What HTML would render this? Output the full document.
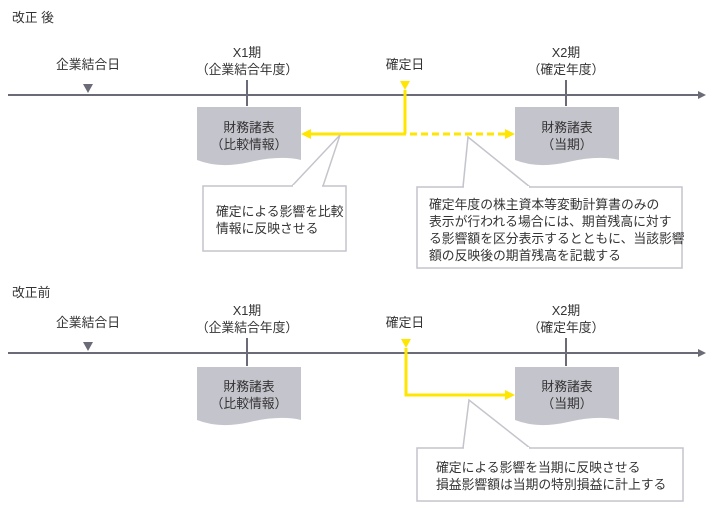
<!DOCTYPE html>
<html><head><meta charset="utf-8"><style>
body{margin:0;background:#fff;width:712px;height:512px;overflow:hidden}
svg text{font-family:"Liberation Sans","Noto Sans CJK JP",sans-serif;font-size:12.8px;fill:#333}
</style></head><body>
<svg width="712" height="512" viewBox="0 0 712 512">
<g id="top">
<text x="12" y="22">改正 後</text>
<line x1="8" y1="95" x2="700" y2="95" stroke="#6b6b78" stroke-width="2"/>
<path d="M698,91L706,95L698,99z" fill="#6b6b78"/>
<text x="88" y="69" text-anchor="middle">企業結合日</text>
<path d="M83,84L93,84L88,93z" fill="#6b6b78"/>
<text x="247" y="57" text-anchor="middle">X1期</text>
<text x="247" y="74" text-anchor="middle">（企業結合年度）</text>
<line x1="247" y1="80" x2="247" y2="106" stroke="#6b6b78" stroke-width="2"/>
<text x="405" y="69" text-anchor="middle">確定日</text>
<text x="566" y="57" text-anchor="middle">X2期</text>
<text x="566" y="74" text-anchor="middle">（確定年度）</text>
<line x1="566" y1="80" x2="566" y2="106" stroke="#6b6b78" stroke-width="2"/>
<path d="M197,107H301V160Q280,155 250,162T197,160z" fill="#c4c4cc"/>
<text x="249" y="132" text-anchor="middle">財務諸表</text>
<text x="249" y="149" text-anchor="middle">（比較情報）</text>
<path d="M515,107H619V160Q598,155 568,162T515,160z" fill="#c4c4cc"/>
<text x="567" y="132" text-anchor="middle">財務諸表</text>
<text x="567" y="149" text-anchor="middle">（当期）</text>
<path d="M400,81L410,81L405,90z" fill="#ffe600"/>
<line x1="405" y1="90" x2="405" y2="134" stroke="#ffe600" stroke-width="3"/>
<line x1="310" y1="134" x2="406" y2="134" stroke="#ffe600" stroke-width="3"/>
<path d="M301,134L311,129L311,139z" fill="#ffe600"/>
<line x1="410" y1="134" x2="506" y2="134" stroke="#ffe600" stroke-width="3" stroke-dasharray="7,4"/>
<path d="M515,134L505,129L505,139z" fill="#ffe600"/>
<path d="M292,186L340,135L323,186" fill="#fff" stroke="#c4c4cc" stroke-width="1.5"/>
<rect x="203" y="186" width="143" height="65" fill="#fff" stroke="#c4c4cc" stroke-width="1.5"/>
<line x1="293" y1="186" x2="322" y2="186" stroke="#fff" stroke-width="2"/>
<text x="216" y="216">確定による影響を比較</text>
<text x="216" y="233">情報に反映させる</text>
<path d="M463,187L468,137L530,187" fill="#fff" stroke="#c4c4cc" stroke-width="1.5"/>
<rect x="417" y="187" width="265" height="81" fill="#fff" stroke="#c4c4cc" stroke-width="1.5"/>
<line x1="464" y1="187" x2="529" y2="187" stroke="#fff" stroke-width="2"/>
<text x="429" y="209">確定年度の株主資本等変動計算書のみの</text>
<text x="429" y="226">表示が行われる場合には、期首残高に対す</text>
<text x="429" y="243">る影響額を区分表示するとともに、当該影響</text>
<text x="429" y="260">額の反映後の期首残高を記載する</text>
</g>
<g id="bottom">
<text x="12" y="297">改正前</text>
<line x1="8" y1="353" x2="700" y2="353" stroke="#6b6b78" stroke-width="2"/>
<path d="M698,349L706,353L698,357z" fill="#6b6b78"/>
<text x="88" y="327" text-anchor="middle">企業結合日</text>
<path d="M83,342L93,342L88,351z" fill="#6b6b78"/>
<text x="247" y="315" text-anchor="middle">X1期</text>
<text x="247" y="332" text-anchor="middle">（企業結合年度）</text>
<line x1="247" y1="338" x2="247" y2="366" stroke="#6b6b78" stroke-width="2"/>
<text x="405" y="327" text-anchor="middle">確定日</text>
<text x="566" y="315" text-anchor="middle">X2期</text>
<text x="566" y="332" text-anchor="middle">（確定年度）</text>
<line x1="566" y1="338" x2="566" y2="366" stroke="#6b6b78" stroke-width="2"/>
<path d="M197,367H301V420Q280,415 250,422T197,420z" fill="#c4c4cc"/>
<text x="249" y="391" text-anchor="middle">財務諸表</text>
<text x="249" y="408" text-anchor="middle">（比較情報）</text>
<path d="M515,367H619V420Q598,415 568,422T515,420z" fill="#c4c4cc"/>
<text x="567" y="391" text-anchor="middle">財務諸表</text>
<text x="567" y="408" text-anchor="middle">（当期）</text>
<path d="M401,339L411,339L406,348z" fill="#ffe600"/>
<path d="M406,348V395H506" fill="none" stroke="#ffe600" stroke-width="3"/>
<path d="M515,395L505,390L505,400z" fill="#ffe600"/>
<path d="M463,448L469,400L530,448" fill="#fff" stroke="#c4c4cc" stroke-width="1.5"/>
<rect x="417" y="448" width="266" height="53" fill="#fff" stroke="#c4c4cc" stroke-width="1.5"/>
<line x1="464" y1="448" x2="529" y2="448" stroke="#fff" stroke-width="2"/>
<text x="436" y="472">確定による影響を当期に反映させる</text>
<text x="436" y="489">損益影響額は当期の特別損益に計上する</text>
</g>
</svg>
</body></html>
